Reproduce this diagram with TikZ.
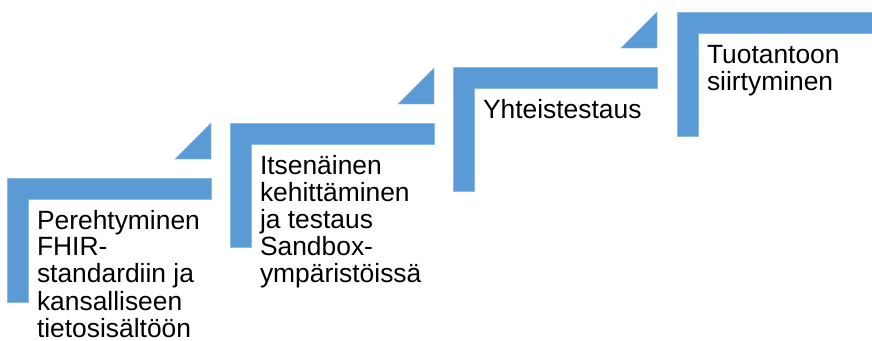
\documentclass[tikz,border=0pt]{standalone}
\usepackage{fontspec}
\setmainfont{Liberation Sans}
\definecolor{stepblue}{RGB}{91,155,213}
\newcommand{\steplines}[1]{{\fontsize{26.4pt}{26.8pt}\selectfont\begin{tabular}[t]{@{}l@{}}#1\end{tabular}}}
\tikzset{
  stepbar/.style={fill=stepblue, draw=stepblue!70!white, line width=0.4pt},
  steplabel/.style={anchor=base west, inner sep=0pt, outer sep=0pt, text=black}
}
\begin{document}
\begin{tikzpicture}[x=1pt,y=1pt]
  \path[clip] (0,0) rectangle (872,-340);
  \fill[white] (0,0) rectangle (872,-340);
  % upper-left corners of the four steps
  \coordinate (s1) at (7,-178);
  \coordinate (s2) at (230,-123);
  \coordinate (s3) at (453,-67);
  \coordinate (s4) at (677,-12);
  \foreach \s in {s1,s2,s3,s4}{
    % L-shaped bracket
    \path[stepbar, shift={(\s)}] (0,0) -- (204,0) -- (204,-21) -- (21,-21)
      -- (21,-124) -- (0,-124) -- cycle;
    % small corner triangle above the bracket
    \path[stepbar, shift={(\s)}] (204,55) -- (204,19) -- (168,19) -- cycle;
  }
  \node[steplabel] (t1) at ([shift={(30,-51)}]s1)
    {\steplines{Perehtyminen\\FHIR-\\standardiin ja\\kansalliseen\\tietosisältöön}};
  \node[steplabel] (t2) at ([shift={(30,-51)}]s2)
    {\steplines{Itsenäinen\\kehittäminen\\ja testaus\\Sandbox-\\ympäristöissä}};
  \node[steplabel] (t3) at ([shift={(30,-51)}]s3)
    {\steplines{Yhteistestaus}};
  \node[steplabel] (t4) at ([shift={(30,-51)}]s4)
    {\steplines{Tuotantoon\\siirtyminen}};
\end{tikzpicture}
\end{document}
